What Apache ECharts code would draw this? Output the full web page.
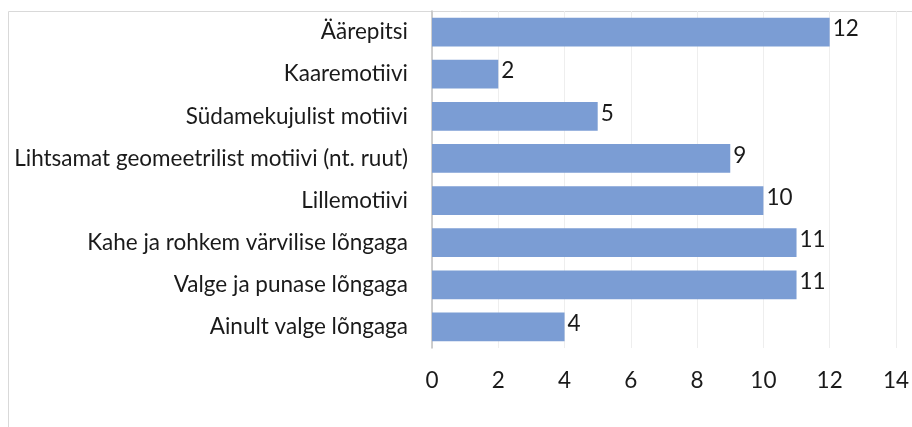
<!DOCTYPE html>
<html><head><meta charset="utf-8">
<script src="https://cdn.jsdelivr.net/npm/echarts@6/dist/echarts.min.js"></script>
<style>html,body{margin:0;padding:0;background:#fff}#c{width:912px;height:427px}</style>
</head><body><div id="c"></div>
<script>
const categories = ["Äärepitsi","Kaaremotiivi","Südamekujulist motiivi","Lihtsamat geomeetrilist motiivi (nt. ruut)","Lillemotiivi","Kahe ja rohkem värvilise lõngaga","Valge ja punase lõngaga","Ainult valge lõngaga"];
const values = [12,2,5,9,10,11,11,4];
const FONT = "Lato, 'Open Sans', sans-serif";
const chart = echarts.init(document.getElementById('c'));
chart.setOption({
  animation:false,
  graphic:[{type:'rect',shape:{x:8.5,y:11.5,width:920,height:430},style:{fill:'none',stroke:'#d9d9d9',lineWidth:1},silent:true}],
  grid:{left:432,right:12.5,top:11,bottom:79},
  xAxis:{type:'value',min:0,max:14,interval:2,
    axisLine:{show:false},axisTick:{show:false},
    splitLine:{lineStyle:{color:'#eeeeee',width:1}},
    axisLabel:{fontFamily:FONT,fontSize:22.5,color:'#1a1a1a',margin:21}},
  yAxis:{type:'category',data:categories,inverse:true,
    axisLine:{lineStyle:{color:'#bfbfbf',width:1.5}},axisTick:{show:false},
    axisLabel:{fontFamily:FONT,fontSize:22.5,color:'#1a1a1a',margin:24}},
  series:[{type:'bar',data:values,barCategoryGap:'32%',
    itemStyle:{color:'#7b9dd4'},
    label:{show:true,position:'right',distance:3,fontFamily:FONT,fontSize:22.5,color:'#1a1a1a',offset:[0,-3]}}]
});
</script></body></html>
